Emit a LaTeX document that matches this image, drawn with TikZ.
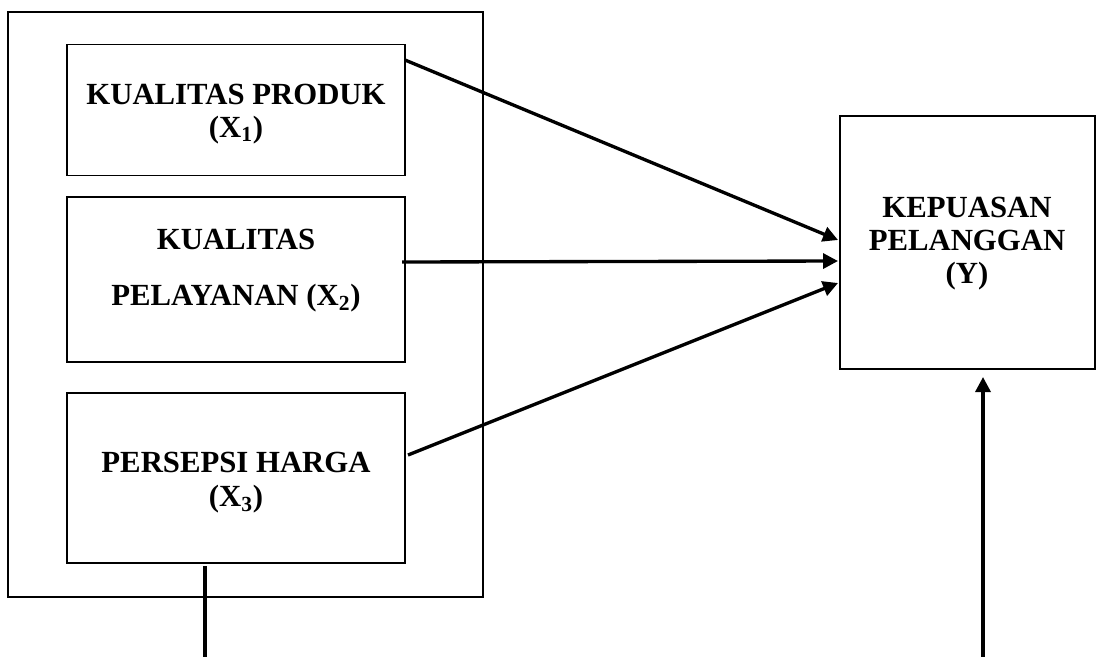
\documentclass[tikz,border=0pt]{standalone}
\usepackage{fontspec}
\setmainfont{Liberation Serif}
\usetikzlibrary{arrows.meta}

\tikzset{
    var/.style={draw, line width=1.1pt, inner sep=0pt},
    lbl/.style={align=center, inner sep=0pt, font=\bfseries\fontsize{17.5}{#1}\selectfont},
    link/.style={line width=1.9pt, -{Triangle[length=0.3cm, width=0.3cm]}}
}

\begin{document}
\begin{tikzpicture}[x=0.02cm, y=-0.02cm]
    \useasboundingbox (0,0) rectangle (1097,656);

    \draw[line width=1.1pt] (8,12) rectangle (483,597);

    \node[var, minimum width=338*0.02cm, minimum height=131*0.02cm] (X1) at (236,110) {};
    \node[var, minimum width=338*0.02cm, minimum height=165*0.02cm] (X2) at (236,279.5) {};
    \node[var, minimum width=338*0.02cm, minimum height=170*0.02cm] (X3) at (236,478) {};
    \node[var, minimum width=255*0.02cm, minimum height=253*0.02cm] (Y) at (967.5,242.5) {};

    \node[lbl=18.5] (X1t) at (236,114) {KUALITAS PRODUK\\(X\textsubscript{1})};
    \node[lbl=31.9] (X2t) at (236,271) {KUALITAS\\PELAYANAN (X\textsubscript{2})};
    \node[lbl=19.4] (X3t) at (236,483) {PERSEPSI HARGA\\(X\textsubscript{3})};
    \node[lbl=18.8] (Yt) at (967,244) {KEPUASAN\\PELANGGAN\\(Y)};

    \coordinate (X1out) at (405,60);
    \coordinate (X2out) at (402,262);
    \coordinate (X3out) at (408,455);
    \coordinate (Yin1) at (838,240);
    \coordinate (Yin2) at (838,261);
    \coordinate (Yin3) at (838,283);

    \draw[link] (X1out) -- (Yin1);
    \draw[link] (X2out) -- (Yin2);
    \draw[link] (X3out) -- (Yin3);

    % return line runs along the lower edge, below the page
    \coordinate (Xdown) at (205,566);
    \coordinate (Yup) at (983,377);
    \draw[link, line join=miter] (Xdown) -- (205,660) -- (983,660) -- (Yup);
\end{tikzpicture}
\end{document}
